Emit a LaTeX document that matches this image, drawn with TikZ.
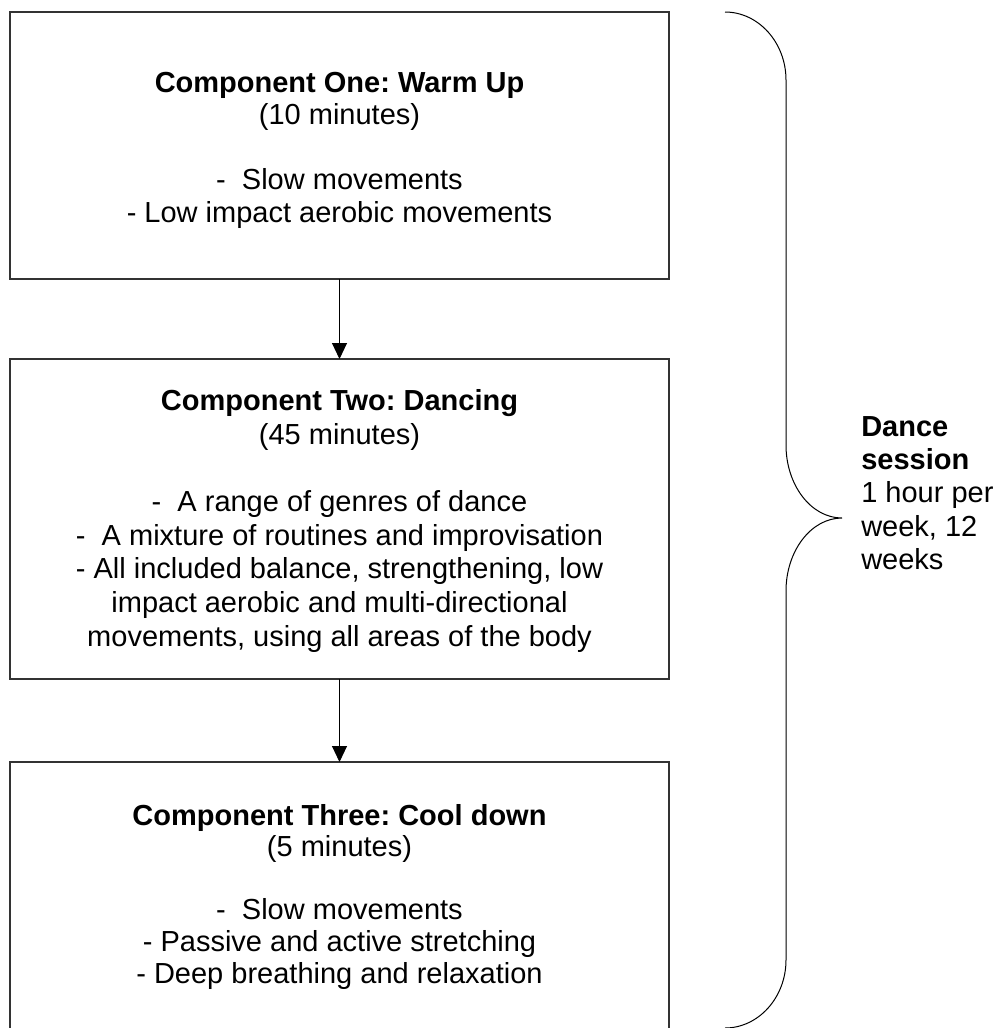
\documentclass[tikz,border=0pt]{standalone}
\usepackage{fontspec}
\setmainfont{Liberation Sans}
\usetikzlibrary{arrows.meta}
\frenchspacing
\begin{document}
\begin{tikzpicture}[x=0.75pt,y=-0.75pt,
  boxstyle/.style={draw=black!80, line width=1pt, rectangle, inner sep=0pt, outer sep=0pt,
    minimum width=494.25pt},
  boxtext/.style={align=center, inner sep=0pt},
  sidetext/.style={align=left, inner sep=0pt, anchor=west, font=\fontsize{21.75pt}{24.975pt}\selectfont},
  flow/.style={line width=0.75pt, -{Triangle[width=11.25pt,length=12pt]}},
  bracestyle/.style={line width=0.75pt, black}]
\useasboundingbox (0,0) rectangle (1002,1028);

\node[boxstyle, minimum height=200.25pt] (box1) at (339.5,145.5) {};
\node[boxtext, font=\fontsize{21.75pt}{24.375pt}\selectfont] (t1) at (339.5,150)
  {\textbf{Component One: Warm Up}\\(10 minutes)\\[24.375pt]-~~Slow movements\\- Low impact aerobic movements};

\node[boxstyle, minimum height=240pt] (box2) at (339.5,519) {};
\node[boxtext, font=\fontsize{21.75pt}{25.2pt}\selectfont] (t2) at (339.5,521)
  {\textbf{Component Two: Dancing}\\(45 minutes)\\[25.2pt]-~~A range of genres of dance\\-~~A mixture of routines and improvisation\\- All included balance, strengthening, low\\impact aerobic and multi-directional\\movements, using all areas of the body};

\node[boxstyle, minimum height=204pt] (box3) at (339.5,898) {};
\node[boxtext, font=\fontsize{21.75pt}{23.7pt}\selectfont] (t3) at (339.5,896.5)
  {\textbf{Component Three: Cool down}\\(5 minutes)\\[23.7pt]-~~Slow movements\\- Passive and active stretching\\- Deep breathing and relaxation};

\draw[flow] (box1.south) -- (box2.north);
\draw[flow] (box2.south) -- (box3.north);

\coordinate (bracetip) at (842,518);
\draw[bracestyle] (725,12) .. controls (758.5,12) and (786,42.6) .. (786,80)
  -- (786,445) .. controls (786,485) and (811,518) .. (bracetip)
  .. controls (811,518) and (786,551) .. (786,591)
  -- (786,960) .. controls (786,997.4) and (758.5,1028) .. (725,1028);

\node[sidetext] (dance) at (861,493)
  {\textbf{Dance}\\\textbf{session}\\1 hour per\\week, 12\\weeks};
\end{tikzpicture}
\end{document}
